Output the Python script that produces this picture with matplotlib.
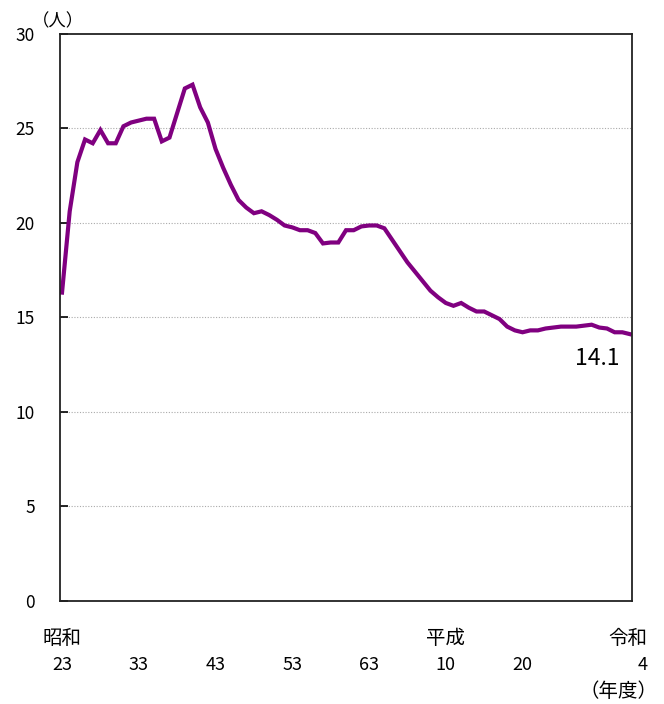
import matplotlib
matplotlib.use("Agg")
import matplotlib.pyplot as plt

plt.rcParams['font.family'] = ['Noto Sans CJK JP', 'DejaVu Sans']

# fiscal years 昭和23 (1948) .. 令和4 (2022)
years = list(range(1948, 2023))
values = [16.3, 20.6, 23.2, 24.4, 24.2, 24.9, 24.2, 24.2, 25.1, 25.3,
          25.4, 25.5, 25.5, 24.3, 24.5, 25.8, 27.1, 27.3, 26.1, 25.3,
          23.9, 22.9, 22.0, 21.2, 20.8, 20.5, 20.6, 20.4, 20.15, 19.85,
          19.75, 19.6, 19.6, 19.45, 18.9, 18.95, 18.95, 19.6, 19.6, 19.8,
          19.85, 19.85, 19.7, 19.1, 18.5, 17.9, 17.4, 16.9, 16.4, 16.05,
          15.75, 15.6, 15.75, 15.5, 15.3, 15.3, 15.1, 14.9, 14.5, 14.3,
          14.2, 14.3, 14.3, 14.4, 14.45, 14.5, 14.5, 14.5, 14.55, 14.6,
          14.45, 14.4, 14.2, 14.2, 14.1]

tick_years = [1948, 1958, 1968, 1978, 1988, 1998, 2008]
tick_labels = ["23", "33", "43", "53", "63", "10", "20"]
era_labels = {1948: "昭和", 1998: "平成"}
yticks = [0, 5, 10, 15, 20, 25, 30]

fig = plt.figure(figsize=(6.64, 7.04), dpi=100)
ax = fig.add_axes([0.0904, 0.1468, 0.8614, 0.8054])

ax.plot(years, values, color='#800080', linewidth=3, solid_joinstyle='miter')

ax.set_xlim(years[0] - 0.26, years[-1] + 0.26)
ax.set_ylim(0, 30)
ax.set_yticks(yticks)
ax.set_yticklabels([str(v) for v in yticks], fontsize=12.5)
ax.tick_params(axis='y', direction='in', length=6, width=1.2, pad=18)
ax.set_xticks([])
for y in yticks[1:-1]:
    ax.axhline(y, color='#aaaaaa', linestyle=(0, (1, 1.5)), linewidth=0.8, zorder=0)

for s in ax.spines.values():
    s.set_linewidth(1.3)
    s.set_color('#222222')

tr = ax.get_xaxis_transform()
for yr, lab in zip(tick_years, tick_labels):
    ax.text(yr, -0.113, lab, transform=tr, ha='center', va='center', fontsize=13)
    if yr in era_labels:
        ax.text(yr, -0.067, era_labels[yr], transform=tr, ha='center', va='center', fontsize=14)
x_end = years[-1] + 2.3
ax.text(x_end, -0.067, "令和", transform=tr, ha='right', va='center', fontsize=14)
ax.text(x_end, -0.113, "4", transform=tr, ha='right', va='center', fontsize=13)
ax.text(x_end + 1.3, -0.160, "（年度）", transform=tr, ha='right', va='center', fontsize=14)

ax.text(years[-1] - 1.4, 12.8, "14.1", ha='right', va='center', fontsize=16.5)
fig.text(58 / 664, 1 - 21 / 704, "（人）", ha='center', va='center', fontsize=12.5)

fig.savefig("out.png", dpi=100)
